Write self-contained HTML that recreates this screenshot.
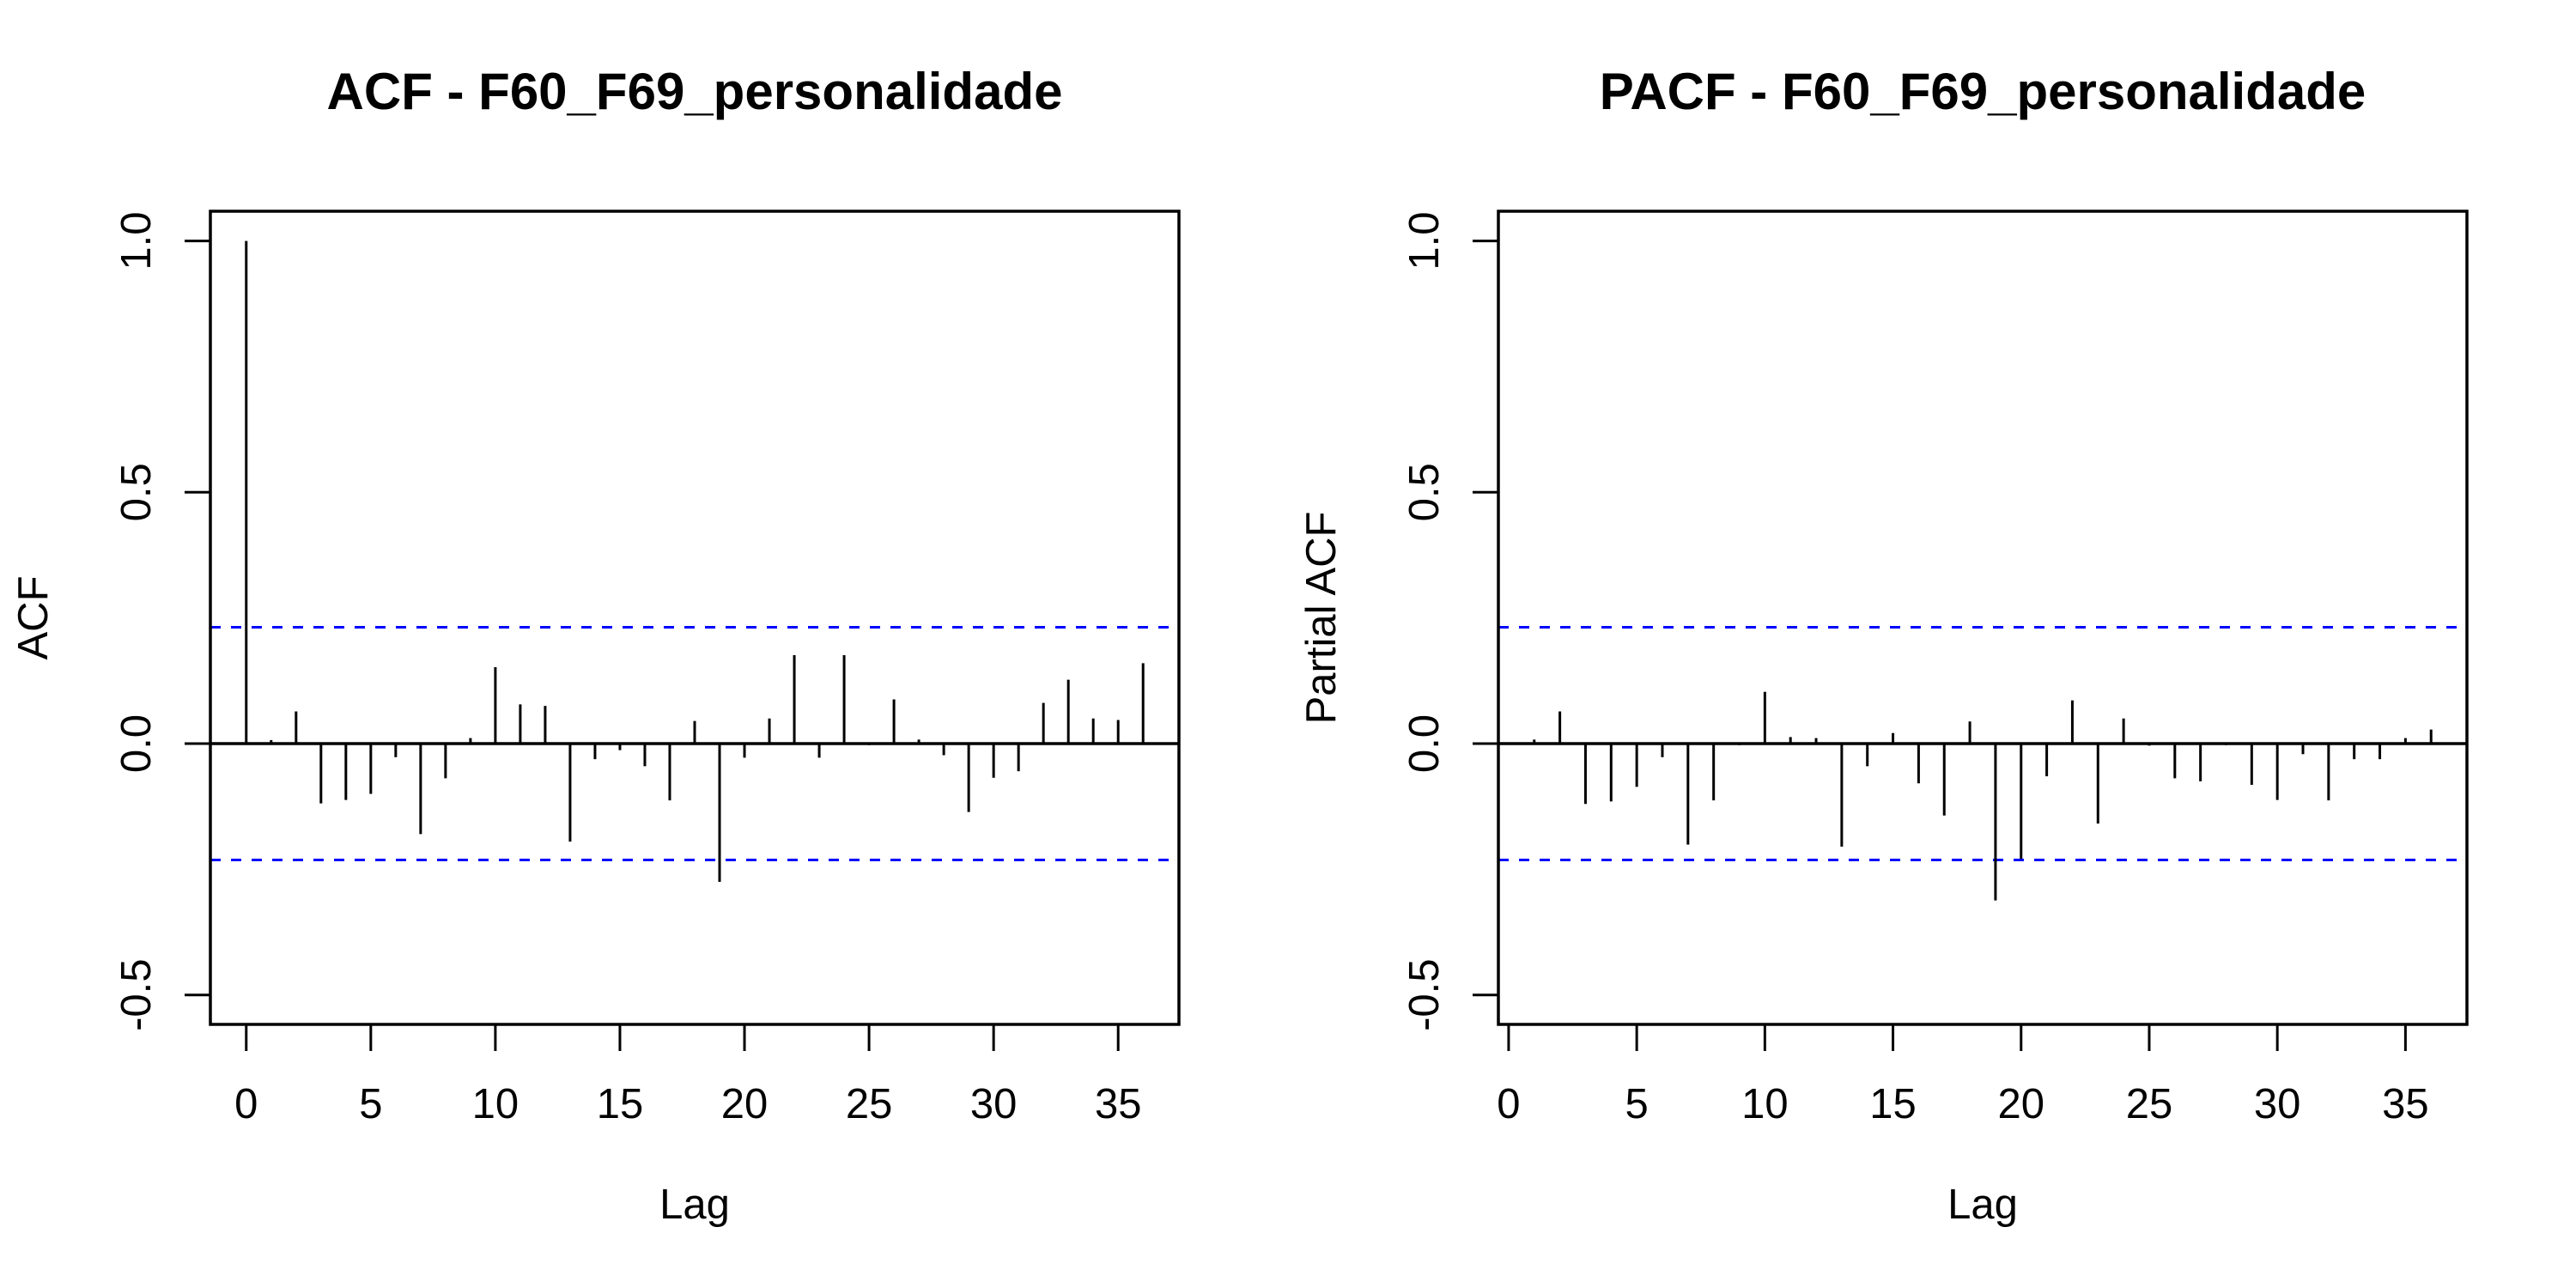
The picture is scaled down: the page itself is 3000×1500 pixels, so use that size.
<!DOCTYPE html>
<html><head><meta charset="utf-8"><style>
html,body{margin:0;padding:0;background:#fff}
svg{display:block;font-family:"Liberation Sans",Arial,sans-serif}
</style></head><body>
<svg id="chart" width="3000" height="1500" viewBox="0 0 3000 1500"></svg>
<script>
const acfLags = [0,1,2,3,4,5,6,7,8,9,10,11,12,13,14,15,16,17,18,19,20,21,22,23,24,25,26,27,28,29,30,31,32,33,34,35,36];
const acfValues = [1,0.007,0.064,-0.119,-0.112,-0.10,-0.027,-0.18,-0.069,0.011,0.152,0.078,0.075,-0.195,-0.031,-0.013,-0.045,-0.113,0.045,-0.275,-0.028,0.05,0.176,-0.028,0.176,-0.003,0.088,0.008,-0.023,-0.136,-0.068,-0.055,0.081,0.127,0.05,0.047,0.16];
const pacfLags = [1,2,3,4,5,6,7,8,9,10,11,12,13,14,15,16,17,18,19,20,21,22,23,24,25,26,27,28,29,30,31,32,33,34,35,36];
const pacfValues = [0.008,0.064,-0.12,-0.115,-0.086,-0.027,-0.201,-0.113,-0.003,0.103,0.013,0.011,-0.205,-0.045,0.021,-0.079,-0.143,0.044,-0.312,-0.229,-0.065,0.086,-0.159,0.05,-0.004,-0.069,-0.075,-0.003,-0.082,-0.112,-0.021,-0.113,-0.031,-0.031,0.011,0.028];
const xTickLabels = [0,5,10,15,20,25,30,35];
const yTickLabels = [-0.5,0,0.5,1.0];
const ciBound = [0.2315];

const NS = "http://www.w3.org/2000/svg";
const svg = document.getElementById("chart");
function mk(tag, attrs, parent){ const e=document.createElementNS(NS,tag); for(const k in attrs) e.setAttribute(k,attrs[k]); (parent||svg).appendChild(e); return e; }

function panel(px, prefix, title, ylabel, lags, vals){
  const L=245+px, R=1373+px, T=246, B=1193;
  const xmin=lags[0], xmax=lags[lags.length-1], pad=(xmax-xmin)*0.04;
  const xs = v => L + (v-(xmin-pad))/((xmax+pad)-(xmin-pad))*(R-L);
  const ys = v => 866 - v*585.4;
  const g = mk("g",{});
  
  
  const t = mk("text",{x:(L+R)/2,y:127,"text-anchor":"middle","font-size":"60","font-weight":"bold"},g);
  t.textContent=title;
  
  
  [ciBound[0], -ciBound[0]].forEach((c,i)=>{
    const l = mk("line",{x1:L,x2:R,y1:ys(c),y2:ys(c),stroke:"#0000ff","stroke-width":3,"stroke-dasharray":"12 12"},g);
    
    
  });
  const z = mk("line",{x1:L,x2:R,y1:ys(0),y2:ys(0),stroke:"#000","stroke-width":3.5},g);
  
  
  lags.forEach((lag,i)=>{
    const b = mk("line",{x1:xs(lag),x2:xs(lag),y1:ys(0),y2:ys(vals[i]),stroke:"#000","stroke-width":3},g);
    
    
  });
  const box = mk("rect",{x:L,y:T,width:R-L,height:B-T,fill:"none",stroke:"#000","stroke-width":3.5},g);
  
  
  xTickLabels.forEach(v=>{
    const tk = mk("line",{x1:xs(v),x2:xs(v),y1:B,y2:1224,stroke:"#000","stroke-width":3},g);
    
    
    const tl = mk("text",{x:xs(v),y:1302,"text-anchor":"middle","font-size":"49"},g);
    tl.textContent=v;
    
    
  });
  yTickLabels.forEach(v=>{
    const tk = mk("line",{x1:215+px,x2:L,y1:ys(v),y2:ys(v),stroke:"#000","stroke-width":3},g);
    
    
    const tl = mk("text",{x:0,y:0,"text-anchor":"middle","font-size":"49",transform:"translate("+(175+px)+","+ys(v)+") rotate(-90)"},g);
    tl.textContent=v.toFixed(1);
    
    
  });
  const xl = mk("text",{x:(L+R)/2,y:1419,"text-anchor":"middle","font-size":"49"},g);
  xl.textContent="Lag";
  
  
  const yl = mk("text",{x:0,y:0,"text-anchor":"middle","font-size":"49",transform:"translate("+(55+px)+","+((T+B)/2)+") rotate(-90)"},g);
  yl.textContent=ylabel;
  
  
}
panel(0,"acf","ACF - F60_F69_personalidade","ACF",acfLags,acfValues);
panel(1500,"pacf","PACF - F60_F69_personalidade","Partial ACF",pacfLags,pacfValues);
</script>
</body></html>
